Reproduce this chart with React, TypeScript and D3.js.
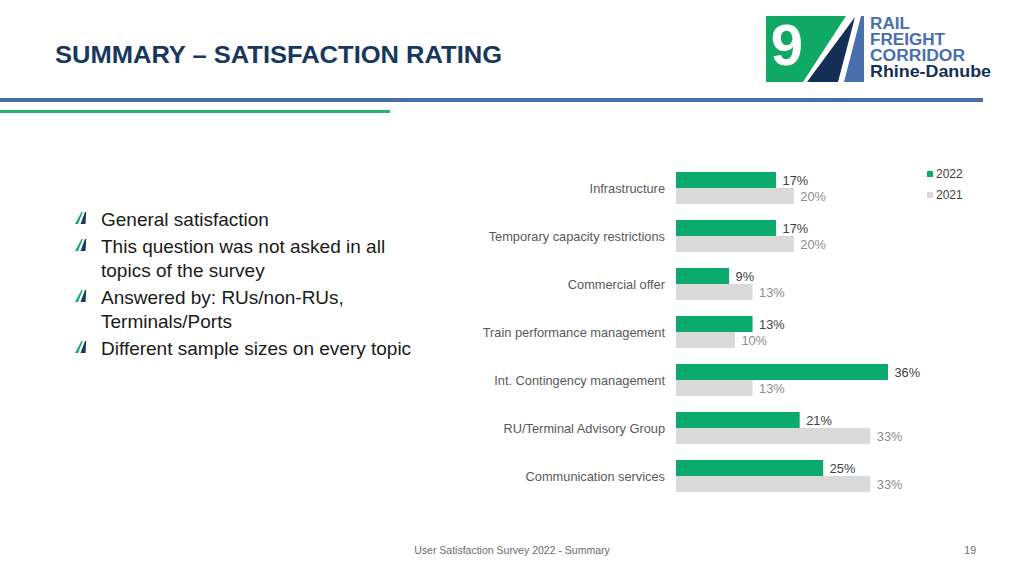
import React from "react";
import * as d3 from "d3";

const categories = [
  "Infrastructure",
  "Temporary capacity restrictions",
  "Commercial offer",
  "Train performance management",
  "Int. Contingency management",
  "RU/Terminal Advisory Group",
  "Communication services",
];
const values2022 = [17, 17, 9, 13, 36, 21, 25];
const values2021 = [20, 20, 13, 10, 13, 33, 33];
const seriesNames = ["2022", "2021"];
const bullets = [
  ["General satisfaction"],
  ["This question was not asked in all", "topics of the survey"],
  ["Answered by: RUs/non-RUs,", "Terminals/Ports"],
  ["Different sample sizes on every topic"],
];

const GREEN = "#0bab6e";
const GREY = "#d9d9d9";
const NAVY = "#17375e";
const FONT = "'Liberation Sans', Arial, Helvetica, sans-serif";

function BulletIcon({ x, y }: { x: number; y: number }) {
  return (
    <g transform={`translate(${x},${y})`}>
      <path d="M0,12 L6.5,0 L7.8,0 L3,12 Z" fill="#14a86c" />
      <path d="M5.5,12 L10,0 L11.2,0 L10.5,12 Z" fill="#1d3a5a" />
    </g>
  );
}

export default function App() {
  const W = 1024;
  const H = 576;
  const x = d3.scaleLinear().domain([0, 36]).range([676, 888]);
  const y = d3.scaleBand<string>().domain(categories).range([164, 500]).padding(0);
  const inner = d3.scaleBand<string>().domain(seriesNames).range([8, 40]).padding(0);
  const series = [
    { name: "2022", values: values2022, fill: GREEN, labelColor: "#404040" },
    { name: "2021", values: values2021, fill: GREY, labelColor: "#8c8c8c" },
  ];

  let lineY = 226;
  const bulletLines: { text: string; y: number; first: boolean }[] = [];
  bullets.forEach((b) => {
    b.forEach((t, i) => {
      bulletLines.push({ text: t, y: lineY, first: i === 0 });
      lineY += i === b.length - 1 ? 27 : 24;
    });
  });

  return (
    <svg
      width={W}
      height={H}
      style={{ position: "absolute", left: 0, top: 0, background: "#fff" }}
      fontFamily={FONT}
    >
      <rect x={0} y={0} width={W} height={H} fill="#fff" />
      {/* Title */}
      <text
        x={55}
        y={63}
        fontSize={24}
        fontWeight="bold"
        fill={NAVY}
        textLength={447}
        lengthAdjust="spacingAndGlyphs"
      >
        SUMMARY – SATISFACTION RATING
      </text>
      {/* Rules */}
      <rect x={0} y={98} width={983} height={4} fill="#4a70aa" />
      <rect x={0} y={110} width={390} height={3} fill="#22b573" />

      {/* Logo */}
      <g>
        <path d="M766,16 L846,16 L803,82 L766,82 Z" fill="#0fa865" />
        <text x={787} y={65} fontSize={58} fontWeight="bold" fill="#fff" textAnchor="middle" fontFamily="'Liberation Sans', Arial, sans-serif">
          9
        </text>
        <path d="M855,17 L807,82 L838,82 Z" fill="#132f55" />
        <path d="M861,16 L864,16 L864,82 L844,82 Z" fill="#4a6fae" />
        <g fontWeight="bold" fill="#4a6fae" fontFamily="'Liberation Sans Narrow', 'Liberation Sans', Arial, sans-serif">
          <text x={870} y={28.5} fontSize={16} textLength={40} lengthAdjust="spacingAndGlyphs">RAIL</text>
          <text x={870} y={44.5} fontSize={16} textLength={75} lengthAdjust="spacingAndGlyphs">FREIGHT</text>
          <text x={870} y={60.5} fontSize={16} textLength={95} lengthAdjust="spacingAndGlyphs">CORRIDOR</text>
        </g>
        <text
          x={870}
          y={77}
          fontWeight="bold"
          fontSize={16.5}
          fill="#132f55"
          textLength={121}
          lengthAdjust="spacingAndGlyphs"
          fontFamily="'Liberation Sans Narrow', 'Liberation Sans', Arial, sans-serif"
        >
          Rhine-Danube
        </text>
      </g>

      {/* Bullets */}
      {bulletLines.map((l, i) => (
        <g key={i}>
          {l.first && <BulletIcon x={75} y={l.y - 14} />}
          <text x={101} y={l.y} fontSize={19} fill="#1a1a1a">
            {l.text}
          </text>
        </g>
      ))}

      {/* Bars */}
      {categories.map((c) => (
        <text
          key={c}
          x={665}
          y={(y(c) ?? 0) + y.bandwidth() / 2 + 1}
          dy="0.35em"
          textAnchor="end"
          fontSize={12.8}
          fill="#595959"
        >
          {c}
        </text>
      ))}
      {series.map((s) =>
        categories.map((c, i) => {
          const by = (y(c) ?? 0) + (inner(s.name) ?? 0);
          const bh = inner.bandwidth();
          return (
            <g key={s.name + c}>
              <rect x={x(0)} y={by} width={x(s.values[i]) - x(0)} height={bh} fill={s.fill} />
              <text
                x={x(s.values[i]) + 6.5}
                y={by + bh / 2 + 1}
                dy="0.35em"
                fontSize={12.8}
                fill={s.labelColor}
              >
                {s.values[i]}%
              </text>
            </g>
          );
        })
      )}

      {/* Legend */}
      {series.map((s, i) => (
        <g key={s.name} transform={`translate(927,${171 + i * 21})`}>
          <rect x={0} y={0} width={6} height={6} fill={s.fill} />
          <text x={9} y={3} dy="0.35em" fontSize={12} fill="#404040">
            {s.name}
          </text>
        </g>
      ))}

      {/* Footer */}
      <text x={512} y={550} dy="0.35em" textAnchor="middle" fontSize={10.5} fill="#6b6b6b">
        User Satisfaction Survey 2022 - Summary
      </text>
      <text x={976} y={550} dy="0.35em" textAnchor="end" fontSize={10.5} fill="#6b6b6b">
        19
      </text>
    </svg>
  );
}
